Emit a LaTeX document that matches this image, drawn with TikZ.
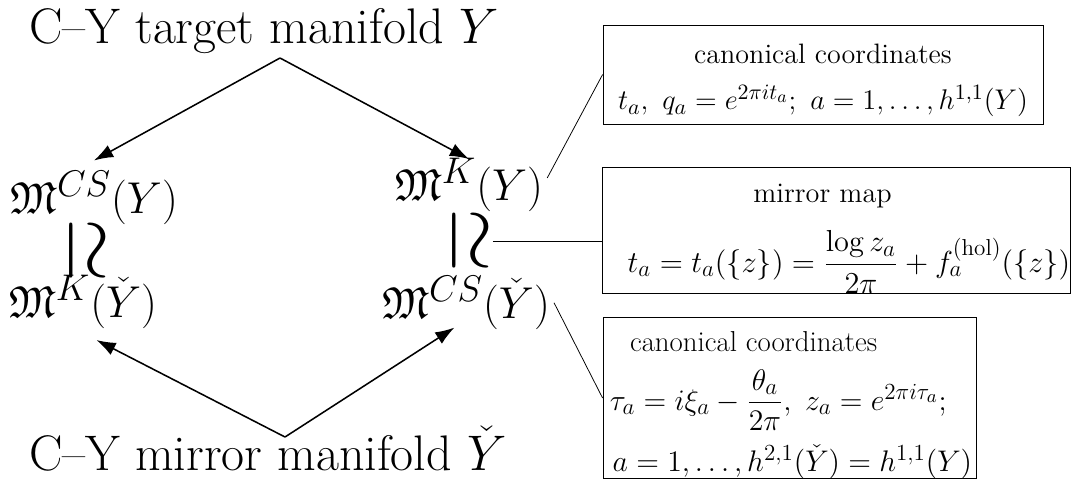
\RequirePackage{fix-cm}
\documentclass[tikz,border=0pt]{standalone}
\usepackage{amsmath,amssymb}
\usepackage{graphicx}
\usetikzlibrary{arrows.meta}
\DeclareMathSizes{23.2}{23.2}{19.3}{16.1}
\DeclareMathSizes{14.6}{14.8}{11.4}{9}
\DeclareMathSizes{14.7}{15.8}{12}{9.5}
\DeclareMathSizes{15}{15.5}{12}{9.5}
\tikzstyle{heading} = [
    font=\fontsize{26}{31}\selectfont,
    inner sep=2pt
]
\tikzstyle{space} = [
    font=\fontsize{23.2}{28}\selectfont,
    inner sep=2pt
]
\tikzstyle{note} = [
    rectangle,
    draw=black,
    font=\fontsize{14.6}{18}\selectfont,
    align=center,
    inner xsep=2pt,
    inner ysep=0pt
]
\tikzstyle{arrow} = [thick,->,>={Latex[length=10pt,width=7pt]}]
\tikzstyle{link} = [thin]
\newcommand{\isom}{\scalebox{1.9}[1.85]{\rotatebox[origin=c]{-90}{$\simeq$}}}
\begin{document}
\begin{tikzpicture}[x=0.52pt,y=-0.52pt]
\useasboundingbox (0,0) rectangle (1076,480);

\node (target) [heading, anchor=base west] at (25,43)
{C--Y target manifold $Y$};
\node (mirror) [heading, anchor=base west] at (25,470)
{C--Y mirror manifold $\check{Y}$};

\coordinate (apexT) at (280,58);
\coordinate (apexB) at (285,437);

\node (csY) [space, anchor=base] at (94,213) {$\mathfrak{M}^{CS}(Y)$};
\node (simL) [space] at (86,251) {\isom};
\node (kYc) [space, anchor=base] at (83,317) {$\mathfrak{M}^{K}(\check{Y})$};

\node (kY) [space, anchor=base] at (469,200) {$\mathfrak{M}^{K}(Y)$};
\node (simR) [space] at (469,241) {\isom};
\node (csYc) [space, anchor=base] at (466,318) {$\mathfrak{M}^{CS}(\check{Y})$};

\node (box1) [note, minimum width=228.8pt, minimum height=51.5pt] at (823,74.5)
{\rule{0pt}{19.7pt}canonical coordinates\\[6pt]
$t_a,\ q_a = e^{2\pi i t_a};\ a = 1,\ldots,h^{1,1}(Y)$\rule[-6.8pt]{0pt}{0pt}};

\node (box2) [note, font=\fontsize{14.7}{18}\selectfont, inner xsep=0pt,
  minimum width=242.8pt, minimum height=65.5pt] at (836.5,230)
{\rule{0pt}{18.7pt}mirror map\hspace*{14.5pt}\\[10.5pt]
\hspace*{13pt}$t_a = t_a(\{z\}) = \dfrac{\log z_a}{2\pi} + f_a^{(\mathrm{hol})}(\{z\})$\rule[-9pt]{0pt}{0pt}};

\node (box3) [note, font=\fontsize{15}{18}\selectfont, align=left,
  minimum width=194pt, minimum height=83.2pt] at (789.5,398)
{\rule{0pt}{18pt}\hspace*{12pt}canonical coordinates\\[8pt]
\hspace*{1.5pt}$\tau_a = i\xi_a - \dfrac{\theta_a}{2\pi},\ z_a = e^{2\pi i\tau_a};$\\[6.5pt]
\hspace*{3pt}$a = 1,\ldots,h^{2,1}(\check{Y}) = h^{1,1}(Y)$};

\draw [arrow] (apexT) -- ([yshift=3.5pt]csY.north);
\draw [arrow] (apexT) -- ([yshift=-2.5pt]kY.north);
\draw [arrow] (apexB) -- ([xshift=7pt,yshift=-4pt]kYc.south);
\draw [arrow] (apexB) -- ([xshift=-6pt,yshift=3pt]csYc.south);

\draw [link] (kY.5) -- (box1.west);
\draw [link] (simR.east) -- (simR.east -| box2.west);
\draw [link] (csYc.east) -- (box3.west);

\end{tikzpicture}
\end{document}
